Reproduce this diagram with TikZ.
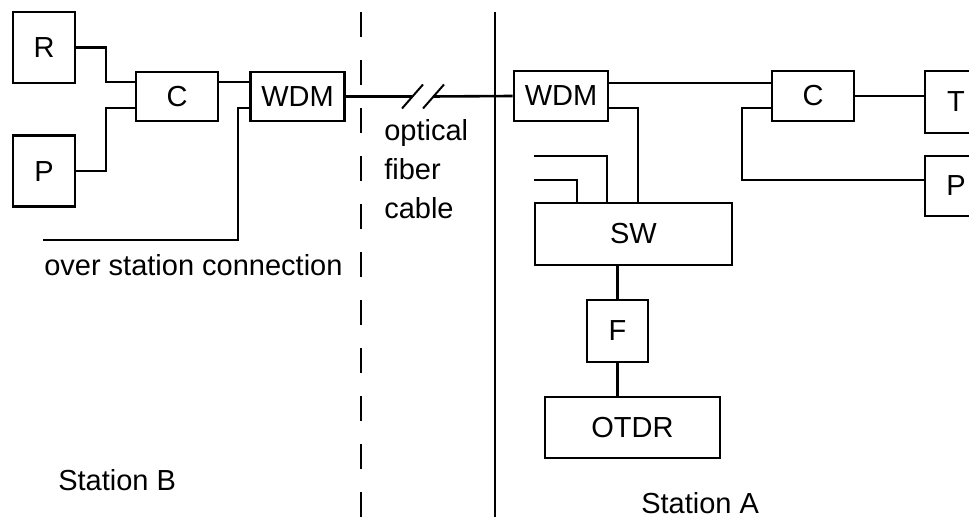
\documentclass[tikz,border=0pt]{standalone}
\usepackage{fontspec}
\setmainfont{Liberation Sans}
\usetikzlibrary{positioning}

\begin{document}
\begin{tikzpicture}[
    x=0.5pt, y=-0.5pt,
    line width=1.3pt,
    box/.style={draw, inner sep=0pt, font=\fontsize{14.5}{19.5}\selectfont},
    lbl/.style={inner sep=0pt, anchor=west, font=\fontsize{14.5}{19.5}\selectfont},
    cut/.style={line width=1pt},
    border/.style={line width=1pt, dash pattern=on 12.5pt off 11.5pt}
]
    \useasboundingbox (0,0) rectangle (969,517);
    \clip (0,0) rectangle (969,517);

    % station B
    \node[box, minimum width=31pt, minimum height=35.5pt] (R) at (44,47.5) {R};
    \node[box, minimum width=31pt, minimum height=35.5pt, below=25pt of R] (Pb) {P};
    \node[box, minimum width=41pt, minimum height=24.5pt] (Cb) at (177,96.5) {C};
    \node[box, minimum width=47pt, minimum height=24.5pt, right=15pt of Cb] (WDMb) {WDM};

    % station A
    \node[box, minimum width=47pt, minimum height=25pt] (WDMa) at (561,96) {WDM};
    \node[box, minimum width=41pt, minimum height=25pt] (Ca) at (813,96) {C};
    \node[box, minimum width=31pt, minimum height=31pt] (T) at (956,102) {T};
    \node[box, minimum width=31pt, minimum height=30pt] (Pa) at (956,186) {P};
    \node[box, minimum width=98.5pt, minimum height=31pt] (SW) at (633.5,234) {SW};
    \node[box, minimum width=30.5pt, minimum height=31pt] (F) at (617.5,331) {F};
    \node[box, minimum width=87.5pt, minimum height=30.5pt] (OTDR) at (632.5,427.5) {OTDR};

    % station borders
    \coordinate (dashT) at (361,12);
    \coordinate (dashB) at (361,517);
    \coordinate (sepT) at (495,12);
    \coordinate (sepB) at (495,517);
    \draw[border] (dashT) -- (dashB);
    \draw (sepT) -- (sepB);

    % connections in station B
    \draw (R.east) -| (106,82) -- (Cb.west |- 0,82);
    \draw (Pb.east) -| (106,108) -- (Cb.west |- 0,108);
    \draw (Cb.east |- 0,82) -- (WDMb.west |- 0,82);
    \coordinate (osc) at (43,240);
    \draw (WDMb.west |- 0,108) -| (238,240) -- (osc);

    % fiber with break marks
    \coordinate (cut1) at (412,96.5);
    \coordinate (cut2) at (433,96.5);
    \draw (WDMb.east) -- (cut1);
    \draw (cut2) -- (WDMa.west);
    \draw[cut] (cut1) ++(-10,12) -- ++(21,-24);
    \draw[cut] (cut2) ++(-10,12) -- ++(21,-24);

    % connections in station A
    \draw (WDMa.east |- 0,83) -- (Ca.west |- 0,83);
    \draw (Ca.east) -- (Ca.east -| T.west);
    \draw (Ca.west |- 0,108) -| (742,180) -- (Pa.west |- 0,180);
    \draw (WDMa.east |- 0,108) -| (638,0 |- SW.north);
    \coordinate (swin1) at (534,156);
    \coordinate (swin2) at (534,180);
    \draw (swin1) -| (607,0 |- SW.north);
    \draw (swin2) -| (577,0 |- SW.north);
    \draw (F.north |- SW.south) -- (F.north);
    \draw (F.south) -- (F.south |- OTDR.north);

    % labels
    \node[lbl] (osclbl) at (43,265) {over station connection};
    \node[lbl, align=left] (fiber) at (383,169) {optical\\fiber\\cable};
    \node[lbl] (stB) at (57,480) {Station B};
    \node[lbl] (stA) at (640,503) {Station A};
\end{tikzpicture}
\end{document}
